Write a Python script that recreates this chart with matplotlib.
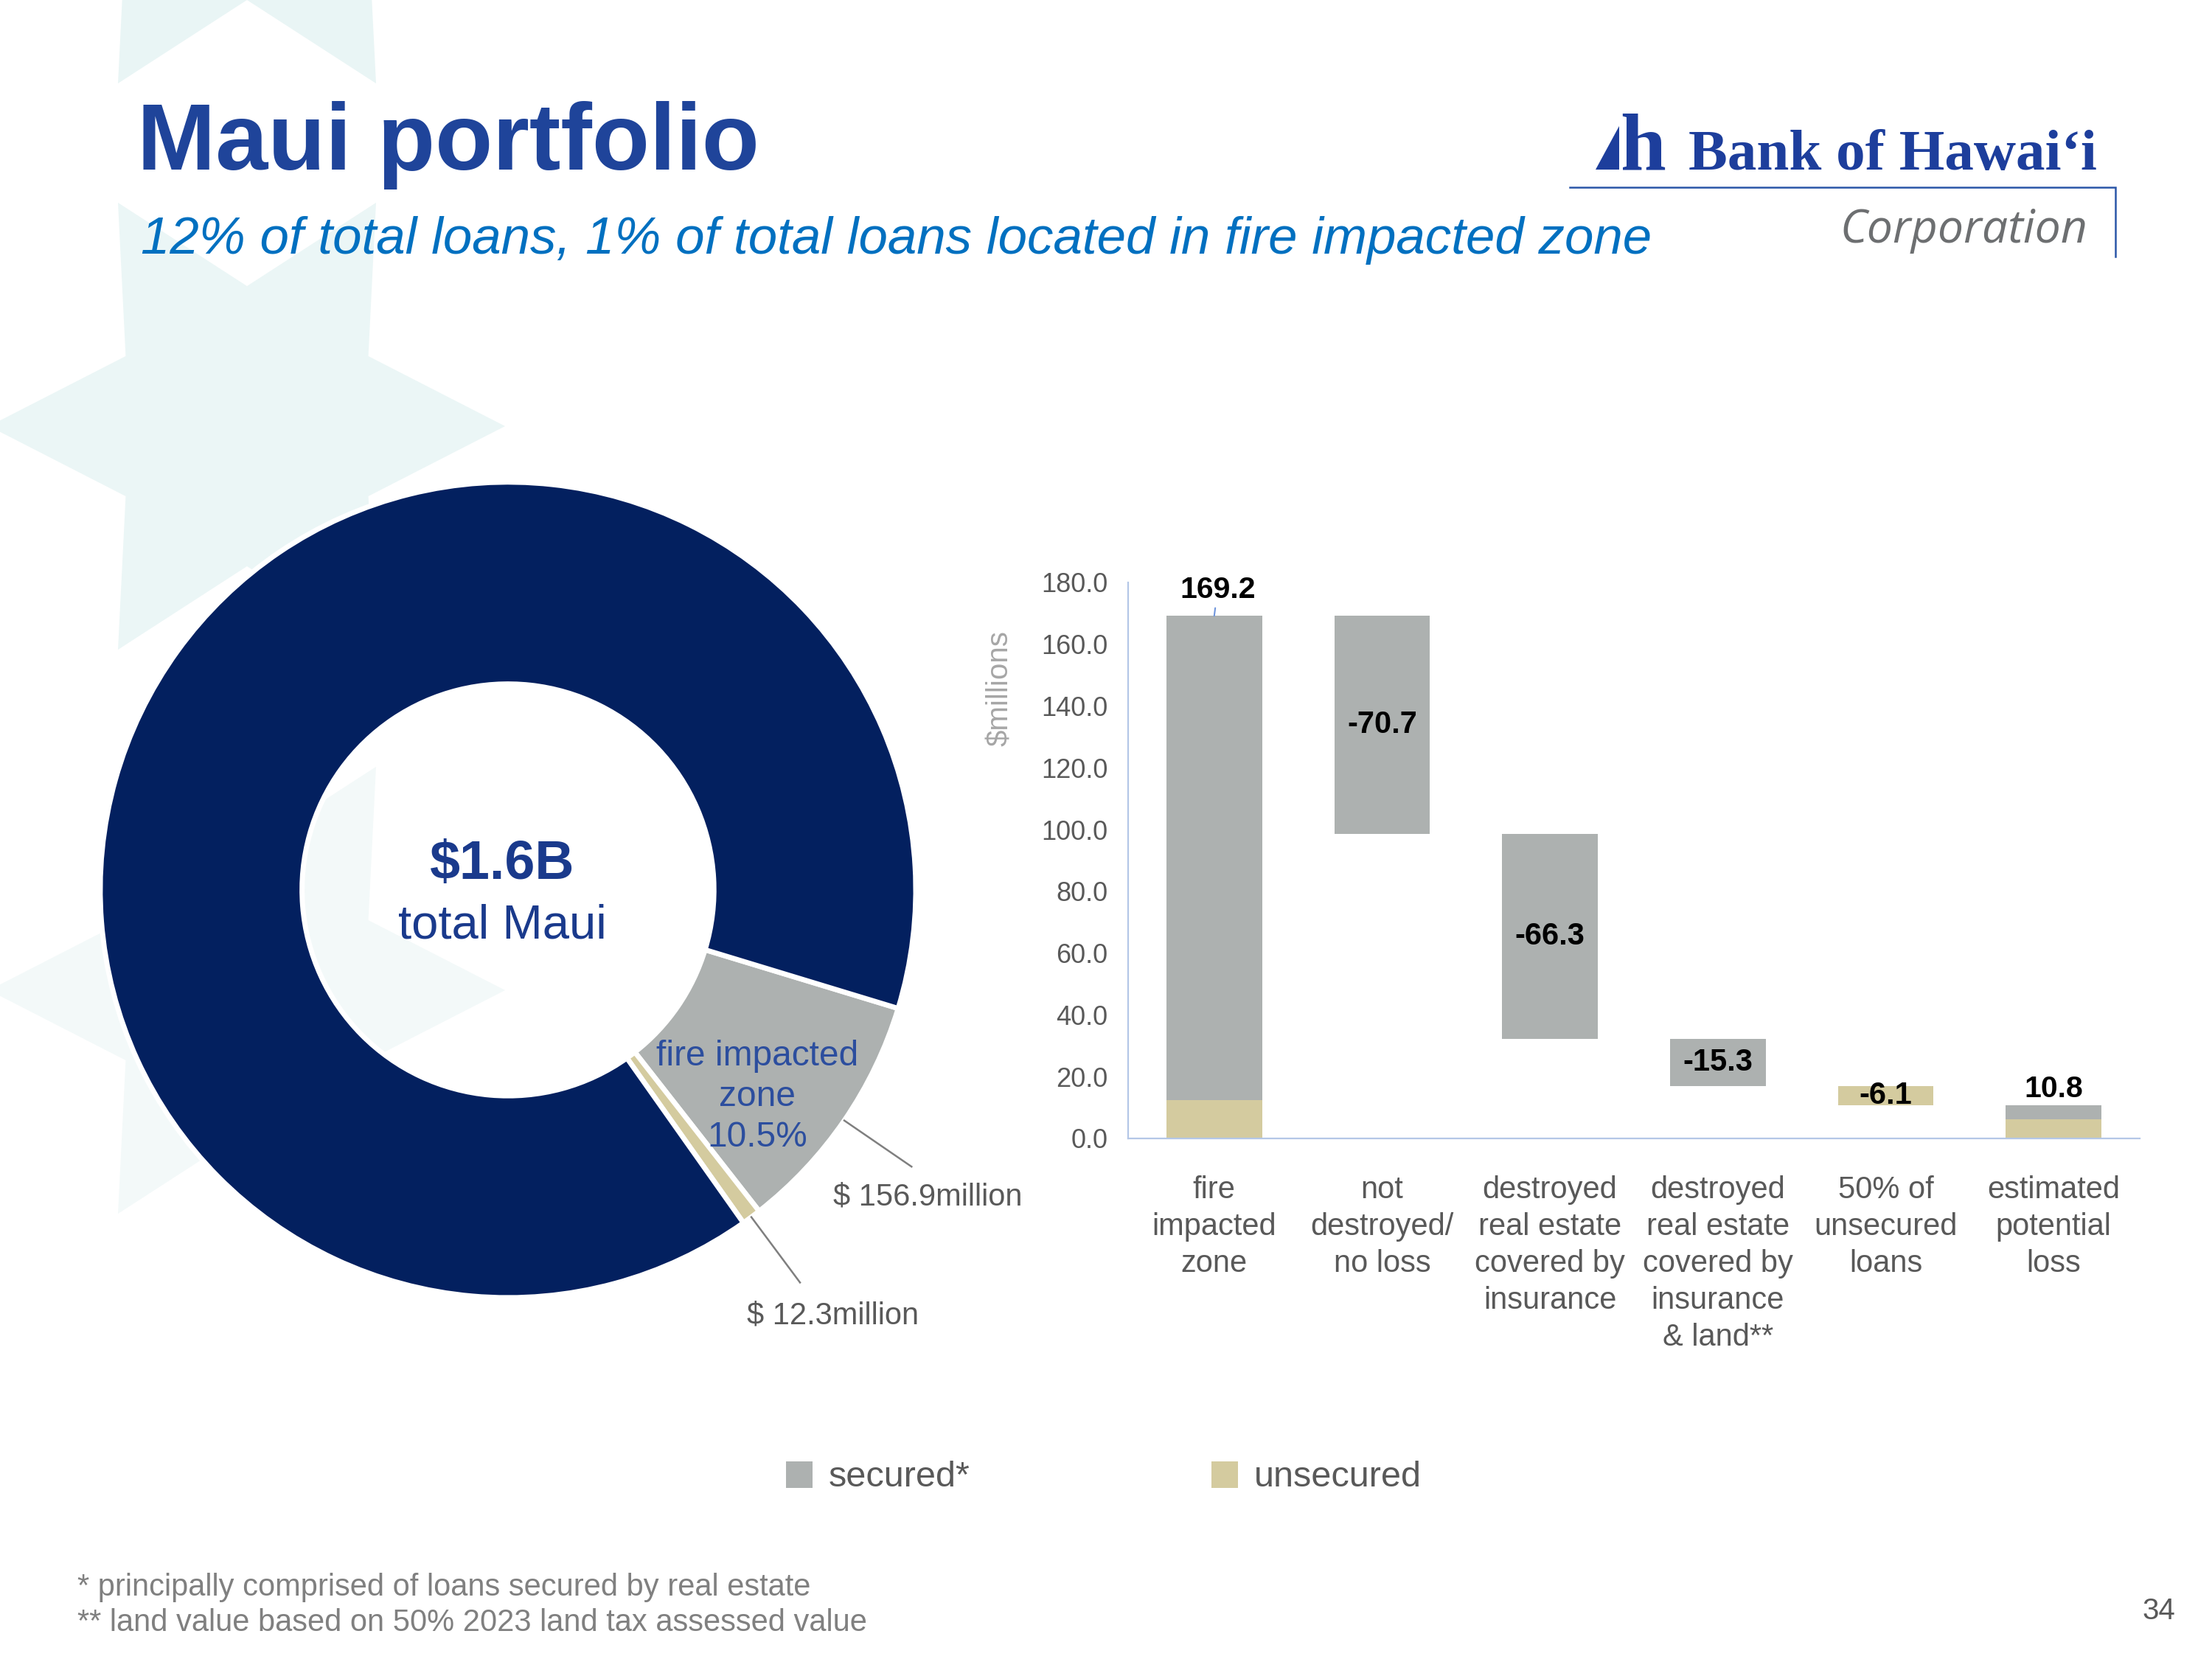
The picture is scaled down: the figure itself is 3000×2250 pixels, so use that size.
import matplotlib.pyplot as plt
import numpy as np

plt.rcParams['font.family'] = ['Liberation Sans', 'DejaVu Sans']

# Maui loans, $ millions
maui_total = 1610.0
fire_secured = 156.9
fire_unsecured = 12.3

# waterfall for the fire impacted zone
categories = ['fire\nimpacted\nzone', 'not\ndestroyed/\nno loss',
              'destroyed\nreal estate\ncovered by\ninsurance',
              'destroyed\nreal estate\ncovered by\ninsurance\n& land**',
              '50% of\nunsecured\nloans', 'estimated\npotential\nloss']
step_values = [-70.7, -66.3, -15.3, -6.1]
step_kind = ['secured', 'secured', 'secured', 'unsecured']
y_ticks = [0, 20, 40, 60, 80, 100, 120, 140, 160, 180]

SEC = '#ADB1B0'
UNSEC = '#D4CB9F'
NAVY = '#03205F'
GREY_TXT = '#595959'

fig = plt.figure(figsize=(30, 22.5), dpi=100)

# background layer in pixel coordinates
bg = fig.add_axes([0, 0, 1, 1])
bg.set_xlim(0, 3000)
bg.set_ylim(2250, 0)
bg.axis('off')


def star(cx, cy, R, r, color):
    ang = np.deg2rad(np.arange(12) * 30)
    rad = np.where(np.arange(12) % 2 == 0, R, r)
    bg.fill(cx + rad * np.cos(ang), cy - rad * np.sin(ang), color=color, lw=0, zorder=0)


star(335, -190, 350, 190, '#E9F5F5')
star(335, 578, 350, 190, '#EBF6F6')
star(335, 1343, 350, 190, '#F3F9F9')

# title block
bg.text(186, 230, 'Maui portfolio', fontsize=92, fontweight='bold', color='#1F449A', va='baseline')
bg.text(191, 344, '12% of total loans, 1% of total loans located in fire impacted zone',
        fontsize=51, style='italic', color='#0070C0', va='baseline')

# logo
LOGO = '#1D3E9C'
bg.fill([2164, 2196, 2196], [230, 230, 171], color=LOGO, lw=0)
bg.text(2197, 230, 'h', family='Liberation Serif', fontsize=80, fontweight='bold', color=LOGO, va='baseline')
bg.text(2290, 230, 'Bank of Hawai\u2018i', family='Liberation Serif', fontsize=57, fontweight='bold',
        color=LOGO, va='baseline')
bg.plot([2129, 2869, 2869], [254, 254, 348], color='#2A56A8', lw=1.8, solid_joinstyle='miter')
bg.text(2831, 329, 'Corporation', family='Open Sans', style='italic', fontsize=45, color='#6D6F71',
        va='baseline', ha='right')

# donut
dax = fig.add_axes([0.0453, 0.2178, 0.3687, 0.4916])
donut_values = [fire_secured, fire_unsecured, maui_total - fire_secured - fire_unsecured]
wedges, _ = dax.pie(donut_values, colors=[SEC, UNSEC, NAVY], startangle=-16.9, counterclock=False,
                    radius=1, wedgeprops=dict(width=0.495, edgecolor='white', linewidth=5))
dax.set_xlim(-1, 1)
dax.set_ylim(-1, 1)
dax.text(-0.014, 0.062, f'${maui_total / 1000:.1f}B', ha='center', va='center', fontsize=53,
         fontweight='bold', color='#1A3A8C')
dax.text(-0.014, -0.088, 'total Maui', ha='center', va='center', fontsize=47, color='#1A3A8C')
fire_pct = (fire_secured + fire_unsecured) / maui_total * 100
dax.text(0.611, -0.508, f'fire impacted\nzone\n{fire_pct:.1f}%', ha='center', va='center',
         fontsize=34.5, color='#2C4E9E', linespacing=1.29)
text_offsets = [(-0.193, -0.074), (-0.13, -0.082)]
for w, v, (dx, dy) in zip(wedges[:2], donut_values[:2], text_offsets):
    a = np.deg2rad((w.theta1 + w.theta2) / 2)
    p0 = np.array([np.cos(a), np.sin(a)])
    p1 = p0 * 1.2
    dax.plot([p0[0], p1[0]], [p0[1], p1[1]], color='#7F7F7F', lw=1.8, clip_on=False)
    dax.text(p1[0] + dx, p1[1] + dy, f'$ {v:.1f}million', ha='left', va='center',
             fontsize=30, color=GREY_TXT, clip_on=False)

# waterfall
ax = fig.add_axes([0.51, 0.3138, 0.4573, 0.3351])
ax.set_facecolor('none')
x = np.arange(len(categories))
bw = 0.57
start = fire_secured + fire_unsecured
ax.bar(x[0], fire_unsecured, bw, color=UNSEC)
ax.bar(x[0], fire_secured, bw, bottom=fire_unsecured, color=SEC)
ax.annotate(f'{start:.1f}', xy=(x[0], start), xytext=(x[0] + 0.02, start + 8.4), ha='center', va='center',
            fontsize=29.5, fontweight='bold', color='black',
            arrowprops=dict(arrowstyle='-', color='#6F95DC', lw=1.5, shrinkA=2, shrinkB=0))

level = start
for i, (v, k) in enumerate(zip(step_values, step_kind), start=1):
    ax.bar(x[i], -v, bw, bottom=level + v, color=SEC if k == 'secured' else UNSEC)
    ax.text(x[i], level + v / 2, f'{v:.1f}', ha='center', va='center', fontsize=30,
            fontweight='bold', color='black')
    level += v

sec_left = fire_secured + sum(v for v, k in zip(step_values, step_kind) if k == 'secured')
unsec_left = fire_unsecured + sum(v for v, k in zip(step_values, step_kind) if k == 'unsecured')
ax.bar(x[-1], unsec_left, bw, color=UNSEC)
ax.bar(x[-1], sec_left, bw, bottom=unsec_left, color=SEC)
ax.text(x[-1], sec_left + unsec_left + 5.2, f'{sec_left + unsec_left:.1f}', ha='center', va='center',
        fontsize=29.5, fontweight='bold', color='black')

ax.set_xlim(-0.513, len(categories) - 0.487)
ax.set_ylim(0, 180)
ax.set_yticks(y_ticks, [f'{t:.1f}' for t in y_ticks])
ax.set_xticks(x, categories)
ax.tick_params(axis='y', length=0, pad=20, labelsize=26, labelcolor=GREY_TXT)
ax.tick_params(axis='x', length=0, pad=36, labelsize=30, labelcolor=GREY_TXT)
for lbl in ax.get_xticklabels():
    lbl.set_linespacing(1.32)
for s in ['top', 'right']:
    ax.spines[s].set_visible(False)
for s in ['left', 'bottom']:
    ax.spines[s].set_color('#B4C7E7')
    ax.spines[s].set_linewidth(1.6)
ax.set_ylabel('$millions', fontsize=29, color='#A6A6A6')
ax.yaxis.set_label_coords(-0.113, 0.809)

# legend
for px, lab, col in [(1066, 'secured*', SEC), (1643, 'unsecured', UNSEC)]:
    bg.add_patch(plt.Rectangle((px, 1982), 36, 36, color=col, lw=0))
    bg.text(px + 58, 2004, lab, fontsize=35, color=GREY_TXT, va='center')

# footnotes
bg.text(105, 2153, '* principally comprised of loans secured by real estate', fontsize=30,
        color='#808080', va='center')
bg.text(105, 2201, '** land value based on 50% 2023 land tax assessed value', fontsize=30,
        color='#808080', va='center')
bg.text(2950, 2185, '34', fontsize=29, color=GREY_TXT, va='center', ha='right')

fig.savefig('out.png', dpi=100)
